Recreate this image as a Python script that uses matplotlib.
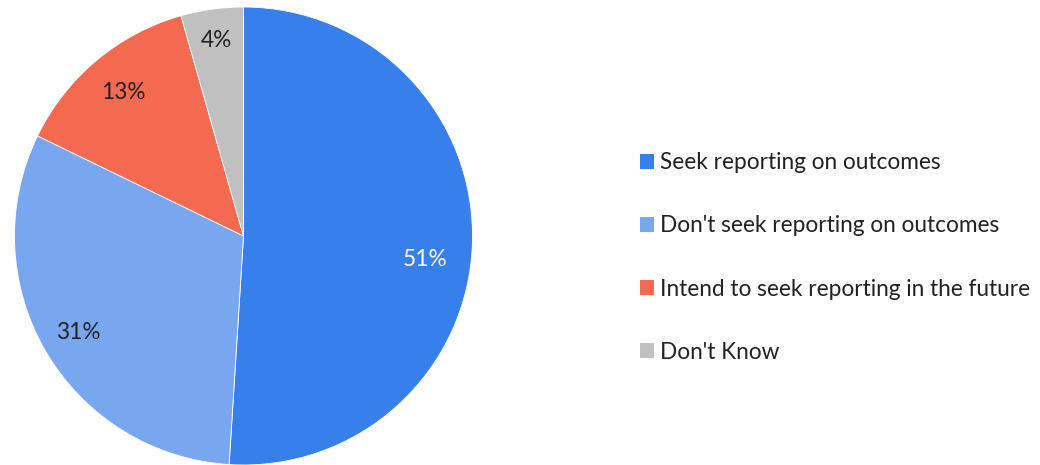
import matplotlib
matplotlib.use('Agg')
import matplotlib.pyplot as plt
from matplotlib.patches import Patch
import numpy as np

plt.rcParams['font.family'] = ['Lato', 'DejaVu Sans']

labels = ['Seek reporting on outcomes', "Don't seek reporting on outcomes",
          'Intend to seek reporting in the future', "Don't Know"]
values = [51.0, 31.2, 13.4, 4.4]
pct_labels = ['51%', '31%', '13%', '4%']
colors = ['#377fea', '#78a7f0', '#f36a51', '#c0c0c0']
text_colors = ['white', '#222222', '#222222', '#222222']
# label placement (radius fraction, extra angle in degrees)
label_r = [0.80, 0.835, 0.82, 0.86]
label_shift = [-5.7, 0, 0, 0]

fig = plt.figure(figsize=(10.4, 4.65), dpi=100)
ax = fig.add_axes([14.5 / 1040, 0.0, 458 / 1040, 458 / 465])

wedges, texts = ax.pie(values, colors=colors, startangle=90, counterclock=False,
                       radius=1.0, wedgeprops=dict(edgecolor='white', linewidth=0.6))
ax.set_xlim(-1, 1)
ax.set_ylim(-1, 1)
ax.set_aspect('equal')

# percent labels along each wedge's middle angle
total = sum(values)
start = 90.0
for v, lab, tc, r, sh in zip(values, pct_labels, text_colors, label_r, label_shift):
    mid = start - v / total * 360 / 2 + sh
    ax.text(r * np.cos(np.radians(mid)), r * np.sin(np.radians(mid)), lab,
            ha='center', va='center', fontsize=16.3, color=tc)
    start -= v / total * 360

handles = [Patch(facecolor=c, edgecolor='none') for c in colors]
leg = fig.legend(handles, labels, loc='center left', bbox_to_anchor=(640 / 1040, 1 - 257.5 / 465),
                 frameon=False, fontsize=16.3, handlelength=0.62, handleheight=0.62,
                 handletextpad=0.27, labelspacing=1.86, borderpad=0, borderaxespad=0)
for t in leg.get_texts():
    t.set_color('#222222')

fig.savefig('out.png', dpi=100)
